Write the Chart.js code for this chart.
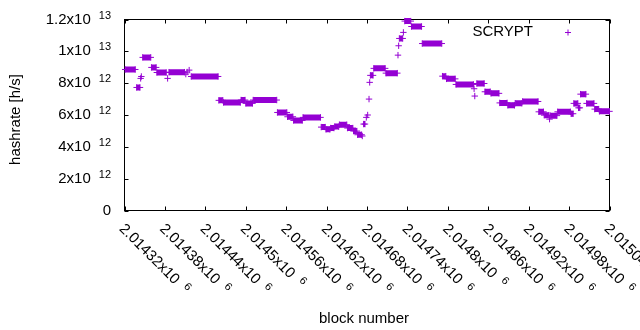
<!DOCTYPE html>
<html>
<head>
<meta charset="utf-8">
<script src="https://cdn.jsdelivr.net/npm/chart.js@4.4.1/dist/chart.umd.min.js"></script>
<style>
  html, body { margin: 0; padding: 0; background: #fff; }
  #wrap { width: 640px; height: 330px; position: relative; }
</style>
</head>
<body>
<div id="wrap"><canvas id="chart"></canvas></div>
<script>
// ==============================
//  DATA (runs of blocks sharing one hashrate value)
// ==============================
const RUN_FROM = [
  2014321, 2014338, 2014344, 2014345, 2014347, 2014360, 2014368, 2014384, 2014386, 2014411,
  2014413, 2014416, 2014419, 2014460, 2014467, 2014493, 2014500, 2014511, 2014547, 2014562,
  2014571, 2014585, 2014612, 2014619, 2014626, 2014632, 2014639, 2014651, 2014660, 2014666,
  2014673, 2014675, 2014679, 2014681, 2014683, 2014684, 2014685, 2014690, 2014708, 2014726,
  2014727, 2014728, 2014734, 2014736, 2014746, 2014762, 2014792, 2014798, 2014812, 2014839,
  2014840, 2014843, 2014855, 2014864, 2014877, 2014889, 2014900, 2014911, 2014935, 2014943,
  2014951, 2014952, 2014963, 2014983, 2014987, 2014994, 2014997, 2015006, 2015018, 2015025
];
const RUN_TO = [
  2014336, 2014343, 2014344, 2014345, 2014359, 2014367, 2014382, 2014384, 2014409, 2014411,
  2014413, 2014416, 2014459, 2014466, 2014492, 2014499, 2014510, 2014546, 2014561, 2014570,
  2014584, 2014611, 2014618, 2014625, 2014631, 2014638, 2014650, 2014659, 2014665, 2014672,
  2014673, 2014677, 2014679, 2014681, 2014683, 2014684, 2014689, 2014707, 2014725, 2014726,
  2014727, 2014733, 2014734, 2014745, 2014761, 2014791, 2014797, 2014811, 2014838, 2014839,
  2014840, 2014854, 2014863, 2014876, 2014888, 2014899, 2014910, 2014934, 2014942, 2014950,
  2014951, 2014962, 2014982, 2014986, 2014993, 2014996, 2015005, 2015017, 2015024, 2015040
];
const RUN_RATE = [
  8.86e12, 7.73e12, 8.30e12, 8.42e12, 9.62e12, 8.99e12, 8.67e12, 8.30e12, 8.69e12, 8.57e12,
  8.70e12, 8.82e12, 8.42e12, 6.92e12, 6.79e12, 6.94e12, 6.73e12, 6.94e12, 6.16e12, 5.89e12,
  5.66e12, 5.85e12, 5.24e12, 5.10e12, 5.18e12, 5.27e12, 5.39e12, 5.18e12, 4.99e12, 4.76e12,
  4.68e12, 5.43e12, 5.85e12, 6.00e12, 7.00e12, 8.05e12, 8.49e12, 8.93e12, 8.63e12, 9.76e12,
  10.35e12, 10.81e12, 11.19e12, 11.90e12, 11.56e12, 10.49e12, 8.44e12, 8.27e12, 7.92e12, 7.65e12,
  7.19e12, 7.98e12, 7.46e12, 7.36e12, 6.76e12, 6.61e12, 6.74e12, 6.85e12, 6.20e12, 5.99e12,
  5.74e12, 5.96e12, 6.20e12, 6.08e12, 6.73e12, 6.45e12, 7.31e12, 6.73e12, 6.37e12, 6.23e12
];

const X_TICKS = [2014320, 2014380, 2014440, 2014500, 2014560, 2014620, 2014680,
                 2014740, 2014800, 2014860, 2014920, 2014980, 2015040];
const X_TICK_TEXT = ['2.01432', '2.01438', '2.01444', '2.0145', '2.01456', '2.01462', '2.01468',
                     '2.01474', '2.0148', '2.01486', '2.01492', '2.01498', '2.01504'];
const Y_TICKS = [0, 2e12, 4e12, 6e12, 8e12, 1e13, 1.2e13];
const Y_TICK_TEXT = ['0', '2x10', '4x10', '6x10', '8x10', '1x10', '1.2x10'];
const Y_TICK_EXP = ['', '12', '12', '12', '12', '13', '13'];

const SERIES_NAME = 'SCRYPT';
const PURPLE = '#9400d3';
const FONT = '"Liberation Sans", Arial, sans-serif';

// ==============================
//  POINTS (null breaks the line between runs)
// ==============================
const points = [];
RUN_FROM.forEach((from, i) => {
  points.push({ x: from, y: RUN_RATE[i] });
  if (RUN_TO[i] !== from) points.push({ x: RUN_TO[i], y: RUN_RATE[i] });
  points.push({ x: RUN_TO[i], y: null });
});

// ==============================
//  GNUPLOT-LIKE FRAME, TICKS AND TEXT
// ==============================
function drawCross(ctx, cx, cy, r) {
  ctx.beginPath();
  ctx.moveTo(cx - r, cy); ctx.lineTo(cx + r, cy);
  ctx.moveTo(cx, cy - r); ctx.lineTo(cx, cy + r);
  ctx.stroke();
}

const frame = {
  id: 'frame',
  beforeDraw(chart) {
    const ctx = chart.ctx;
    ctx.save();
    ctx.fillStyle = '#fff';
    ctx.fillRect(0, 0, chart.width, chart.height);
    ctx.restore();
  },
  beforeDatasetsDraw(chart) {
    const { ctx, chartArea: a, scales: { x, y } } = chart;
    const tl = 4;
    ctx.save();
    ctx.strokeStyle = '#000';
    ctx.lineWidth = 1;
    ctx.strokeRect(a.left, a.top, a.right - a.left, a.bottom - a.top);
    ctx.beginPath();
    Y_TICKS.forEach(v => {
      const py = Math.round(y.getPixelForValue(v)) + 0.5;
      ctx.moveTo(a.left, py); ctx.lineTo(a.left + tl, py);
      ctx.moveTo(a.right, py); ctx.lineTo(a.right - tl, py);
    });
    X_TICKS.forEach(v => {
      const px = Math.round(x.getPixelForValue(v)) + 0.5;
      ctx.moveTo(px, a.bottom); ctx.lineTo(px, a.bottom - tl);
      ctx.moveTo(px, a.top); ctx.lineTo(px, a.top + tl);
    });
    ctx.stroke();
    ctx.restore();
  },
  afterDraw(chart) {
    const { ctx, chartArea: a, scales: { x, y } } = chart;
    ctx.save();
    ctx.fillStyle = '#000';
    ctx.textBaseline = 'middle';

    // y tick labels, right aligned, exponent raised
    Y_TICKS.forEach((v, i) => {
      const py = y.getPixelForValue(v);
      let right = 111;
      if (Y_TICK_EXP[i]) {
        ctx.font = '11px ' + FONT;
        ctx.textAlign = 'right';
        ctx.fillText(Y_TICK_EXP[i], right, py - 4);
        right -= ctx.measureText(Y_TICK_EXP[i]).width + 8;
      }
      ctx.font = '15px ' + FONT;
      ctx.textAlign = 'right';
      ctx.fillText(Y_TICK_TEXT[i], right, py);
    });

    // x tick labels, turned 45 degrees down to the right
    X_TICKS.forEach((v, i) => {
      const px = x.getPixelForValue(v);
      ctx.save();
      ctx.translate(px - 3, a.bottom + 16);
      ctx.rotate(Math.PI / 4);
      ctx.textAlign = 'left';
      ctx.font = '15px ' + FONT;
      const label = X_TICK_TEXT[i] + 'x10';
      ctx.fillText(label, 0, 0);
      const w = ctx.measureText(label).width;
      ctx.font = '11px ' + FONT;
      ctx.fillText('6', w + 8, -4);
      ctx.restore();
    });

    // axis titles
    ctx.font = '15px ' + FONT;
    ctx.textAlign = 'center';
    ctx.fillText('block number', 364, 319);
    ctx.save();
    ctx.translate(16, 119.5);
    ctx.rotate(-Math.PI / 2);
    ctx.fillText('hashrate [h/s]', 0, 0);
    ctx.restore();

    // key
    ctx.textAlign = 'right';
    ctx.fillText(SERIES_NAME, 533, 32);
    ctx.strokeStyle = PURPLE;
    ctx.lineWidth = 1;
    drawCross(ctx, 568, 32.5, 3);
    ctx.restore();
  }
};

// ==============================
//  CHART
// ==============================
new Chart(document.getElementById('chart'), {
  type: 'line',
  data: {
    datasets: [{
      label: SERIES_NAME,
      data: points,
      borderColor: PURPLE,
      backgroundColor: PURPLE,
      borderWidth: 6,
      borderCapStyle: 'butt',
      spanGaps: false,
      tension: 0,
      clip: false,
      pointStyle: 'cross',
      pointRadius: 3.2,
      pointBorderWidth: 1,
      pointBorderColor: PURPLE,
      pointHoverRadius: 3.2,
    }]
  },
  options: {
    responsive: true,
    maintainAspectRatio: false,
    animation: false,
    events: [],
    layout: { padding: { left: 124.5, right: 30.5, top: 19.5, bottom: 119.5 } },
    plugins: { legend: { display: false }, tooltip: { enabled: false } },
    scales: {
      x: { type: 'linear', min: 2014320, max: 2015040, display: false },
      y: { type: 'linear', min: 0, max: 1.2e13, display: false }
    }
  },
  plugins: [frame]
});
</script>
</body>
</html>
